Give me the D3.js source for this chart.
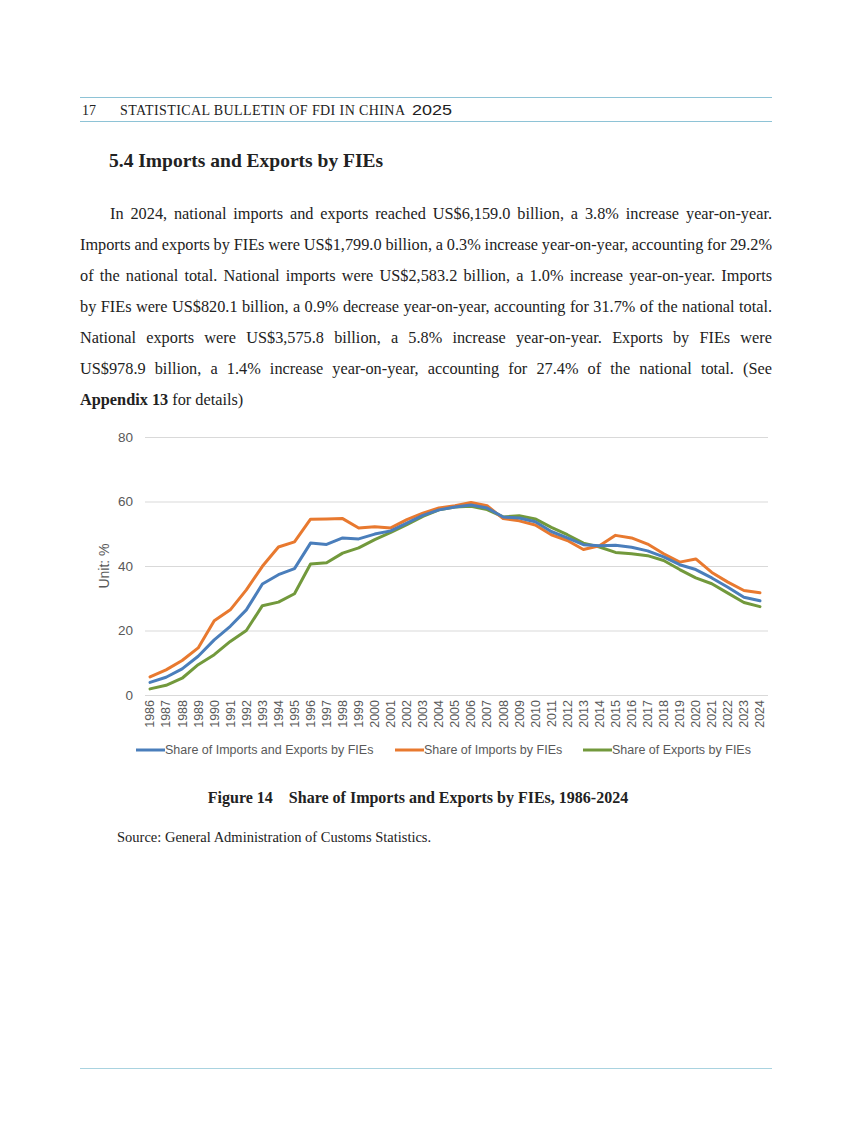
<!DOCTYPE html>
<html>
<head>
<meta charset="utf-8">
<script src="https://cdn.jsdelivr.net/npm/d3@7"></script>
<style>
  body { margin: 0; background: #fff; }
  svg { display: block; }
</style>
</head>
<body>
<svg></svg>
<script>
// years on the category axis
var years = [];
for (var y = 1986; y <= 2024; y++) { years.push(String(y)); }

// share values, %
var totalShare = [3.9, 5.5, 8.1, 12.0, 17.1, 21.3, 26.4, 34.4, 37.3, 39.2,
                  47.1, 46.7, 48.7, 48.4, 49.9, 50.9, 53.3, 55.7, 57.4, 58.3,
                  58.9, 58.0, 55.2, 54.9, 53.7, 50.7, 48.7, 46.6, 46.3, 46.4,
                  45.8, 44.7, 42.8, 40.4, 38.9, 36.3, 33.4, 30.3, 29.2];
var importShare = [5.6, 7.8, 10.7, 14.6, 23.0, 26.4, 32.6, 39.9, 45.9, 47.5,
                   54.5, 54.6, 54.7, 51.8, 52.2, 51.8, 54.4, 56.4, 58.0, 58.7,
                   59.7, 58.7, 54.7, 54.0, 52.7, 49.7, 47.9, 45.1, 46.3, 49.5,
                   48.7, 46.8, 43.8, 41.2, 42.2, 38.0, 35.0, 32.4, 31.7];
var exportShare = [1.9, 3.0, 5.2, 9.4, 12.5, 16.6, 20.0, 27.7, 28.8, 31.4,
                   40.6, 41.0, 44.0, 45.6, 48.2, 50.4, 52.8, 55.4, 57.4, 58.3,
                   58.5, 57.5, 55.2, 55.6, 54.6, 52.0, 49.7, 47.1, 45.9, 44.2,
                   43.8, 43.2, 41.7, 38.9, 36.3, 34.5, 31.6, 28.7, 27.4];

var seriesNames = ["Share of Imports and Exports by FIEs", "Share of Imports by FIEs", "Share of Exports by FIEs"];
var seriesColors = ["#4a7ebb", "#e8792f", "#72993c"];
var yTicks = [0, 20, 40, 60, 80];

var paragraph = [
  "In 2024, national imports and exports reached US$6,159.0 billion, a 3.8% increase year-on-year.",
  "Imports and exports by FIEs were US$1,799.0 billion, a 0.3% increase year-on-year, accounting for 29.2%",
  "of the national total. National imports were US$2,583.2 billion, a 1.0% increase year-on-year. Imports",
  "by FIEs were US$820.1 billion, a 0.9% decrease year-on-year, accounting for 31.7% of the national total.",
  "National exports were US$3,575.8 billion, a 5.8% increase year-on-year. Exports by FIEs were",
  "US$978.9 billion, a 1.4% increase year-on-year, accounting for 27.4% of the national total. (See"
];

var screen = { width: 851, height: 1146 };
var svg = d3.select("svg")
            .attr("width", screen.width)
            .attr("height", screen.height);

var serif = "'Liberation Serif', 'Times New Roman', serif";
var sans = "'Liberation Sans', Arial, sans-serif";

// page header
svg.append("line").attr("x1", 80).attr("x2", 772).attr("y1", 97.5).attr("y2", 97.5)
   .attr("stroke", "#8ec3d6").attr("stroke-width", 1);
svg.append("line").attr("x1", 80).attr("x2", 772).attr("y1", 121.5).attr("y2", 121.5)
   .attr("stroke", "#8ec3d6").attr("stroke-width", 1);
svg.append("text").attr("x", 82).attr("y", 115)
   .style("font-family", serif).style("font-size", "14px").attr("fill", "#222")
   .text("17");
svg.append("text").attr("x", 120).attr("y", 115)
   .attr("textLength", 285).attr("lengthAdjust", "spacing")
   .style("font-family", serif).style("font-size", "14px").attr("fill", "#222")
   .text("STATISTICAL BULLETIN OF FDI IN CHINA");
svg.append("text").attr("x", 412).attr("y", 115)
   .attr("textLength", 40).attr("lengthAdjust", "spacingAndGlyphs")
   .style("font-family", sans).style("font-size", "15.5px").attr("fill", "#222")
   .text("2025");

// section title
svg.append("text").attr("x", 109).attr("y", 167)
   .style("font-family", serif).style("font-size", "19.5px").style("font-weight", "bold")
   .attr("fill", "#222").text("5.4 Imports and Exports by FIEs");

// body text, justified line by line
paragraph.forEach(function(line, i) {
  var x0 = i == 0 ? 110 : 80;
  var t = svg.append("text").attr("x", x0).attr("y", 219 + i * 31)
     .style("font-family", serif).style("font-size", "16.3px").attr("fill", "#222")
     .text(line);
  var natural = t.node().getComputedTextLength();
  var gaps = line.split(" ").length - 1;
  t.attr("word-spacing", ((772 - x0) - natural) / gaps);
});
var last = svg.append("text").attr("x", 80).attr("y", 219 + 6 * 31)
   .style("font-family", serif).style("font-size", "16.3px").attr("fill", "#222");
last.append("tspan").style("font-weight", "bold").text("Appendix 13");
last.append("tspan").text(" for details)");

// chart
var margins = { top: 437, left: 142, right: 768, bottom: 695 };

var xScale = d3.scaleBand()
               .domain(years)
               .range([margins.left, margins.right]);

var yScale = d3.scaleLinear()
               .domain([0, 80])
               .range([margins.bottom, margins.top]);

var yAxis = d3.axisLeft(yScale)
              .tickValues(yTicks)
              .tickSize(-(margins.right - margins.left - 3))
              .tickPadding(12);

var gy = svg.append("g")
   .attr("transform", "translate(" + (margins.left + 3) + ",0)")
   .call(yAxis);
gy.select(".domain").remove();
gy.selectAll(".tick line").attr("stroke", "#d9d9d9");
gy.selectAll(".tick text")
  .style("font-family", sans).style("font-size", "13.5px").attr("fill", "#595959");

var xAxis = d3.axisBottom(xScale).tickSize(0);
var gx = svg.append("g")
   .attr("transform", "translate(0," + margins.bottom + ")")
   .call(xAxis);
gx.select(".domain").remove();
gx.selectAll(".tick text")
  .attr("transform", "rotate(-90)")
  .attr("x", -5).attr("y", 0).attr("dy", "0.35em")
  .style("text-anchor", "end")
  .style("font-family", sans).style("font-size", "12.5px").attr("fill", "#595959");

svg.append("text")
   .attr("transform", "translate(109," + yScale(40) + ") rotate(-90)")
   .style("text-anchor", "middle")
   .style("font-family", sans).style("font-size", "14px").attr("fill", "#595959")
   .text("Unit: %");

var allSeries = [totalShare, importShare, exportShare];
var line = d3.line()
             .x(function(d, i) { return xScale(years[i]) + xScale.bandwidth() / 2; })
             .y(function(d) { return yScale(d); });

// draw green first, then orange, then blue on top like the figure
[2, 1, 0].forEach(function(k) {
  svg.append("path")
     .datum(allSeries[k])
     .attr("d", line)
     .attr("fill", "none")
     .attr("stroke", seriesColors[k])
     .attr("stroke-width", 3)
     .attr("stroke-linejoin", "round")
     .attr("stroke-linecap", "round");
});

// legend
var legendX = [136, 395, 583];
seriesNames.forEach(function(name, k) {
  var g = svg.append("g").attr("transform", "translate(" + legendX[k] + ",750)");
  g.append("line").attr("x1", 0).attr("x2", 29).attr("y1", 0).attr("y2", 0)
   .attr("stroke", seriesColors[k]).attr("stroke-width", 3);
  g.append("text").attr("x", 29).attr("dy", "0.35em")
   .style("font-family", sans).style("font-size", "12.5px").attr("fill", "#595959")
   .text(name);
});

// caption and source
svg.append("text").attr("x", 418).attr("y", 803)
   .style("text-anchor", "middle")
   .style("font-family", serif).style("font-size", "16px").style("font-weight", "bold")
   .attr("fill", "#222")
   .text("Figure 14\u2003Share of Imports and Exports by FIEs, 1986-2024");
svg.append("text").attr("x", 117).attr("y", 842)
   .style("font-family", serif).style("font-size", "14.5px").attr("fill", "#222")
   .text("Source: General Administration of Customs Statistics.");

// footer rule
svg.append("line").attr("x1", 80).attr("x2", 772).attr("y1", 1068.5).attr("y2", 1068.5)
   .attr("stroke", "#a9d3e0").attr("stroke-width", 1);
</script>
</body>
</html>
